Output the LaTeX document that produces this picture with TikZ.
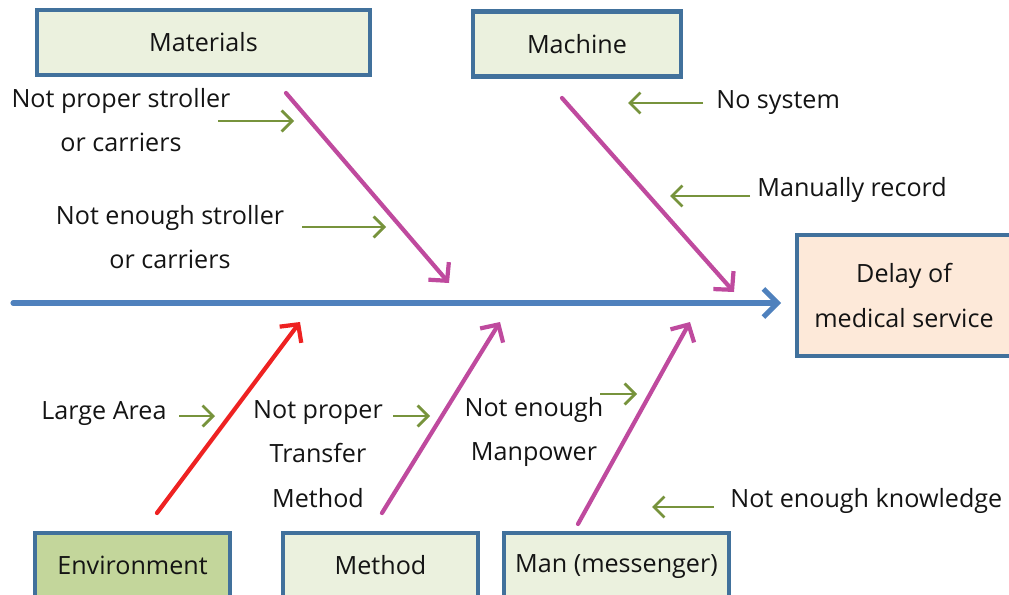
\documentclass[tikz,border=0pt]{standalone}
\usepackage{fontspec}
\setmainfont{Open Sans}
\usetikzlibrary{arrows.meta}

\definecolor{boxblue}{HTML}{41719C}
\definecolor{boxgreen}{HTML}{EBF1DE}
\definecolor{envgreen}{HTML}{C3D69B}
\definecolor{effectpeach}{HTML}{FDE9D9}
\definecolor{spineblue}{HTML}{4F81BD}
\definecolor{bonepink}{HTML}{BF4A9E}
\definecolor{bonered}{HTML}{EE2222}
\definecolor{hintgreen}{HTML}{77933C}
\definecolor{inkgray}{HTML}{141414}

\tikzset{
  category/.style={draw=boxblue, line width=2.3pt, fill=boxgreen, minimum height=1.3cm,
    inner sep=0pt, text=inkgray, font=\fontsize{14.3}{25.5}\selectfont},
  cause/.style={text=inkgray, align=center, inner sep=0pt, font=\fontsize{14.3}{25.5}\selectfont},
  spine/.style={spineblue, line width=2.9pt, line cap=round, -{Straight Barb[length=2.8mm, width=5.6mm]}},
  bone/.style={bonepink, line width=2.4pt, line cap=round, -{Straight Barb[length=2.6mm, width=5.4mm]}},
  hint/.style={hintgreen, line width=1.6pt, -{Straight Barb[length=2.1mm, width=4.2mm]}},
}

\begin{document}
\begin{tikzpicture}[x=0.02cm, y=-0.02cm]
  \clip (0,0) rectangle (1009,595);

  % category boxes and effect
  \node[category, minimum width=6.66cm] (materials) at (203.5,42.5) {Materials};
  \node[category, minimum width=4.16cm] (machine) at (577,44) {Machine};
  \node[category, fill=effectpeach, minimum width=4.3cm, minimum height=2.42cm, align=center]
    (effect) at (904,295.5) {Delay of\\medical service};
  \node[category, fill=envgreen, minimum width=3.9cm] (environment) at (132.5,565.5) {Environment};
  \node[category, minimum width=3.9cm] (method) at (380.5,565.5) {Method};
  \node[category, minimum width=4.5cm, text height=1.4ex, text depth=0pt] (man) at (616.5,565.5) {Man (messenger)};

  % spine
  \coordinate (tail) at (13,303);
  \coordinate (head) at (781,303);
  \draw[spine] (tail) -- (head);

  % bones
  \coordinate (matA) at (286,93);   \coordinate (matB) at (449,283);
  \coordinate (macA) at (562,98);   \coordinate (macB) at (734,292);
  \coordinate (envA) at (157,513);  \coordinate (envB) at (300,322);
  \coordinate (metA) at (382,513);  \coordinate (metB) at (500,322);
  \coordinate (manA) at (578,524);  \coordinate (manB) at (690,322);
  \draw[bone] (matA) -- (matB);
  \draw[bone] (macA) -- (macB);
  \draw[bone, bonered] (envA) -- (envB);
  \draw[bone] (metA) -- (metB);
  \draw[bone] (manA) -- (manB);

  % causes
  \node[cause] (strollerA) at (121,120) {Not proper stroller\\or carriers};
  \node[cause] (strollerB) at (170,237) {Not enough stroller\\or carriers};
  \node[cause, anchor=west] (nosystem) at (716,103) {No system};
  \node[cause, anchor=west] (manual) at (757,190) {Manually record};
  \node[cause] (area) at (104,414) {Large Area};
  \node[cause] (transfer) at (318,454) {Not proper\\Transfer\\Method};
  \node[cause] (manpower) at (534,432) {Not enough\\Manpower};
  \node[cause, anchor=west] (knowledge) at (730,501) {Not enough knowledge};

  % pointers
  \draw[hint] (218,121) coordinate (p1) -- (294,121) coordinate (q1);
  \draw[hint] (302,227) coordinate (p2) -- (386,227) coordinate (q2);
  \draw[hint] (703,103) coordinate (p3) -- (628,103) coordinate (q3);
  \draw[hint] (750,196) coordinate (p4) -- (670,196) coordinate (q4);
  \draw[hint] (179,416) coordinate (p5) -- (215,416) coordinate (q5);
  \draw[hint] (393,416) coordinate (p6) -- (430,416) coordinate (q6);
  \draw[hint] (600,394) coordinate (p7) -- (637,394) coordinate (q7);
  \draw[hint] (714,507) coordinate (p8) -- (652,507) coordinate (q8);
\end{tikzpicture}
\end{document}
